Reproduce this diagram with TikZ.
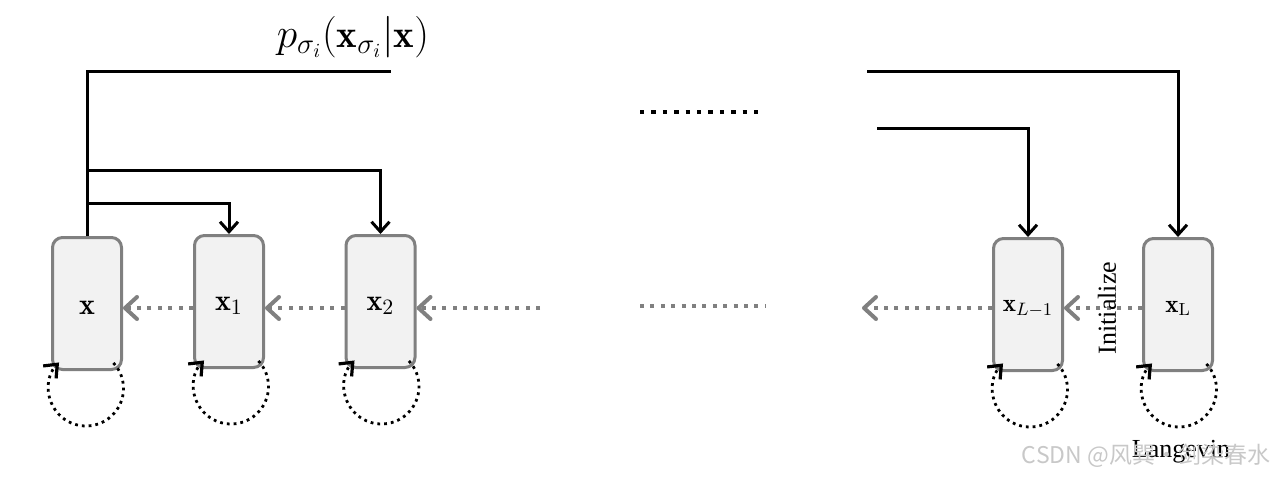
\documentclass[tikz,border=0pt]{standalone}
\usepackage{fontspec}
\newfontfamily\serifb{Liberation Serif}
\newfontfamily\cjk{Noto Sans CJK SC}
\usetikzlibrary{arrows.meta}
\definecolor{boxgray}{HTML}{808080}
\definecolor{boxfill}{HTML}{F2F2F2}
\definecolor{dotgray}{HTML}{808080}
\definecolor{wmgray}{HTML}{C8C8C8}
\tikzset{
 stagebox/.style={draw=boxgray, fill=boxfill, line width=1.5pt, rounded corners=5pt, minimum width=34.5pt, minimum height=66pt, inner sep=0pt},
 conn/.style={line width=1.5pt, black},
 downarrow/.style={conn, -{Straight Barb[length=5pt,width=9pt]}},
 grayarrow/.style={dotgray, line width=2pt, dash pattern=on 2pt off 3.2pt, -{Straight Barb[length=6pt,width=11pt,round]}},
 graydots/.style={dotgray, line width=2pt, dash pattern=on 2pt off 3.2pt},
 blackdots/.style={black, line width=2.2pt, dash pattern=on 2.2pt off 3.5pt},
 loopst/.style={black, line width=1.4pt, dash pattern=on 1.4pt off 2pt, -{Straight Barb[length=5.5pt,width=9pt,line width=1.6pt]}},
 boxlbl/.style={font=\fontsize{15}{17}\selectfont, inner sep=0pt},
 boxlbls/.style={font=\fontsize{12.5}{15}\selectfont, inner sep=0pt},
}
\begin{document}
\begin{tikzpicture}[x=0.5pt,y=-0.5pt]
\useasboundingbox (0,0) rectangle (1272,477);
% boxes
\node[stagebox] (b0) at (87,303.5) {};
\node[stagebox] (b1) at (229,301.5) {};
\node[stagebox] (b2) at (380.5,301.5) {};
\node[stagebox] (bL1) at (1028,304.5) {};
\node[stagebox] (bL) at (1178,304.5) {};
% labels
\node[boxlbl] (l0) at ([yshift=-2pt]b0.center) {$\mathbf{x}$};
\node[boxlbl] (l1) at ([yshift=-2pt]b1.center) {$\mathbf{x}_1$};
\node[boxlbl] (l2) at ([yshift=-2pt]b2.center) {$\mathbf{x}_2$};
\node[boxlbls] (lL1) at ([yshift=-2pt]bL1.center) {$\mathbf{x}_{L-1}$};
\node[boxlbls] (lL) at ([yshift=-2pt]bL.center) {$\mathbf{x}_{\mathrm{L}}$};
% formula
\node[font=\fontsize{19.5}{23}\selectfont, inner sep=0pt] (pf) at (353,37) {$p_{\sigma_i}(\mathbf{x}_{\sigma_i}|\mathbf{x})$};
% black connectors
\coordinate (tl) at (87,71);
\coordinate (pe) at (391,71);
\coordinate (j1) at (87,170);
\coordinate (j2) at (87,203);
\draw[conn] (b0.north) -- (tl) -- (pe);
\draw[downarrow] (j1) -| (b2.north);
\draw[downarrow] (j2) -| (b1.north);
\coordinate (r1) at (867,71);
\coordinate (r2) at (877,128);
\draw[downarrow] (r1) -| (bL.north);
\draw[downarrow] (r2) -| (bL1.north);
% dotted middles
\coordinate (m1) at (640,112);
\coordinate (m2) at (765,112);
\draw[blackdots] (m1) -- (m2);
\coordinate (m3) at (640,306);
\coordinate (m4) at (765,306);
\draw[graydots] (m3) -- (m4);
% gray arrows
\coordinate (gy) at (0,308);
\coordinate (g1) at (540,308);
\coordinate (g4) at (862,308);
\draw[grayarrow] (b1.west |- gy) -- (b0.east |- gy);
\draw[grayarrow] (b2.west |- gy) -- (b1.east |- gy);
\draw[grayarrow] (g1) -- (b2.east |- gy);
\draw[grayarrow] (bL1.west |- gy) -- (g4);
\draw[grayarrow] (bL.west |- gy) -- (bL1.east |- gy);
% loops
\foreach \b/\dx in {b0/-1,b1/2,b2/1,bL1/2,bL/1}{
  \draw[loopst] ([shift={(\dx,17.5)}]\b.south) ++(-43:37.5) arc[start angle=-43,end angle=224,radius=37.5];
}
% texts
\node[font=\serifb\fontsize{13}{15}\selectfont, rotate=90, inner sep=0pt] (init) at (1107,308) {Initialize};
\node[font=\serifb\fontsize{13}{15}\selectfont, inner sep=0pt] (lang) at (1181,452) {Langevin};
\node[text=wmgray, font=\cjk\fontsize{11.5}{14}\selectfont, inner sep=0pt] (wm) at (1146,456) {CSDN @风巽·剑染春水};
\end{tikzpicture}
\end{document}
